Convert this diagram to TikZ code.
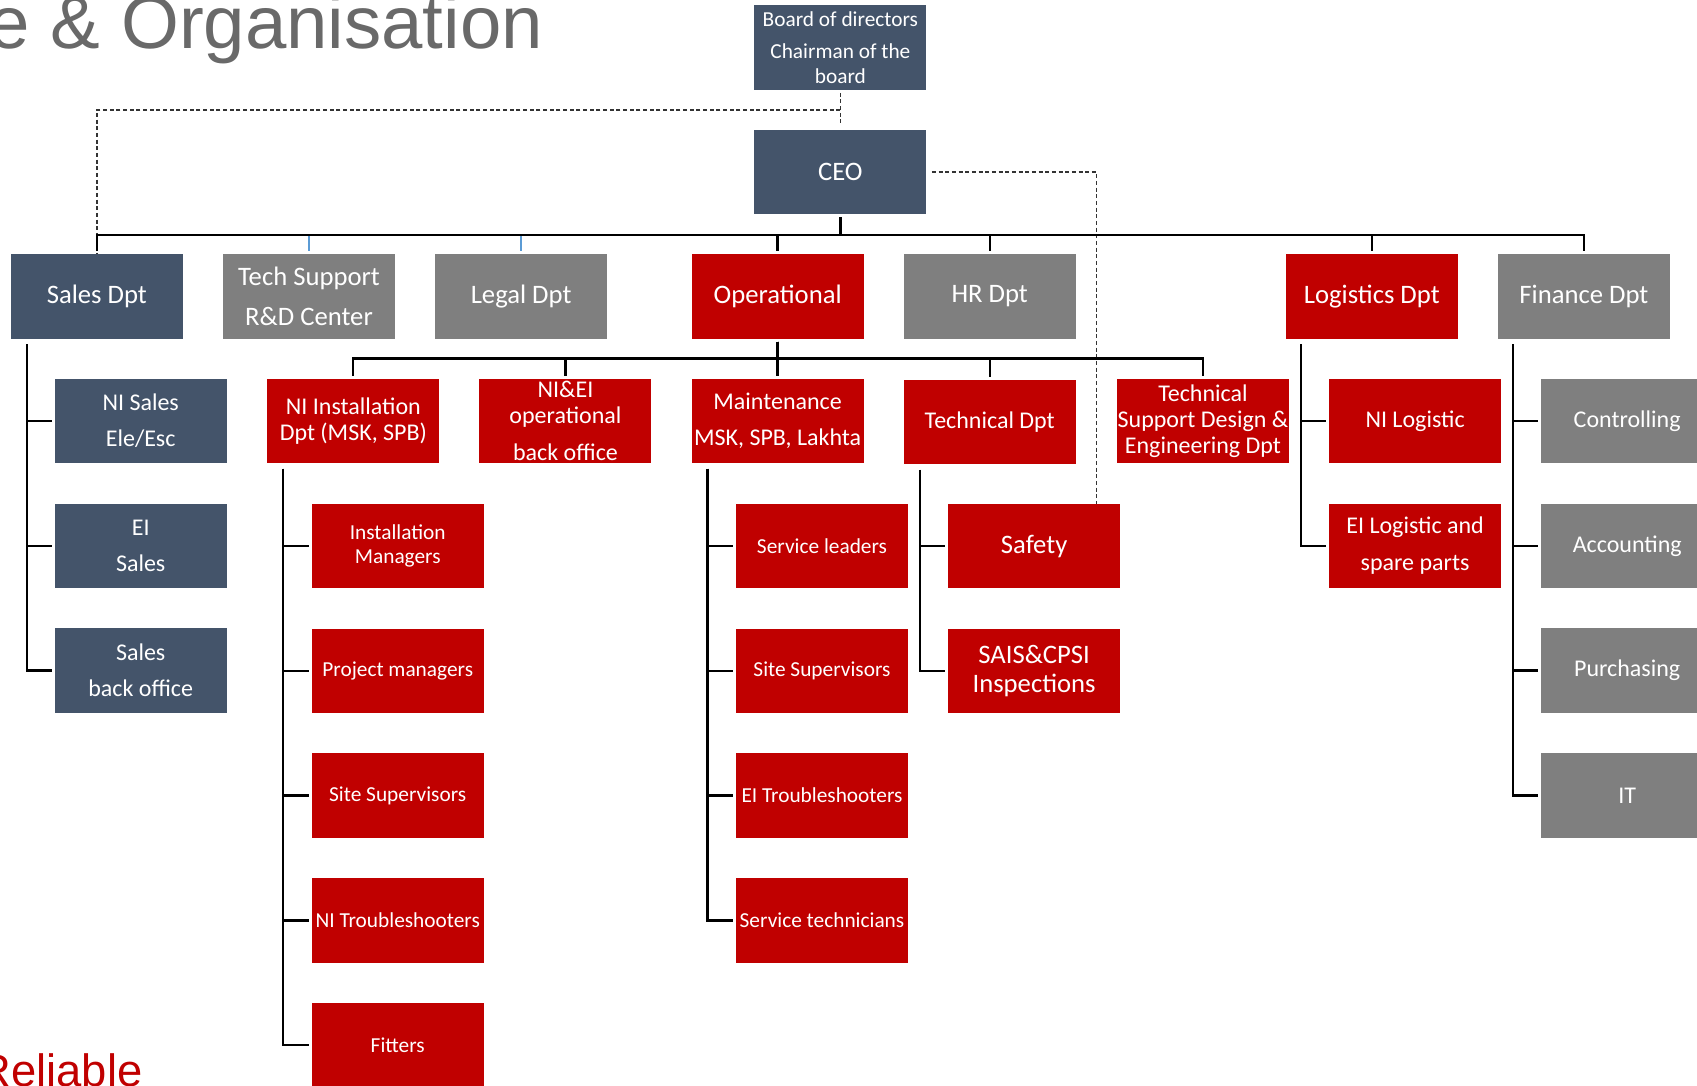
\documentclass[tikz,border=0pt]{standalone}
\usepackage{fontspec}
\setmainfont{Carlito}
\newfontfamily\titlefont{Liberation Sans}
\usepackage{tikz}
\usetikzlibrary{calc, positioning}

\definecolor{navy}{RGB}{68,84,106}
\definecolor{boxgrey}{RGB}{127,127,127}
\definecolor{boxred}{RGB}{192,0,0}
\definecolor{linkblue}{RGB}{91,155,213}
\definecolor{titlegrey}{RGB}{105,105,105}

\tikzset{
  orgbox/.style={rectangle, minimum width=129pt, minimum height=63.3pt, inner sep=0pt, text=white, align=center},
  navybox/.style={orgbox, fill=navy},
  greybox/.style={orgbox, fill=boxgrey},
  redbox/.style={orgbox, fill=boxred},
  txtbig/.style={font=\fontsize{20}{30}\selectfont},
  txtmid/.style={font=\fontsize{18}{26.8}\selectfont},
  txttight/.style={font=\fontsize{18}{19.5}\selectfont},
  txtsmall/.style={font=\fontsize{16}{18}\selectfont},
  conn/.style={draw=black, line width=1.7pt, shorten <=2pt, shorten >=2pt},
  dashln/.style={draw=black!80, line width=1pt, dash pattern=on 3pt off 2pt},
}

\begin{document}
\begin{tikzpicture}[x=0.8117pt, y=-0.8117pt, node distance=29.9pt]
\useasboundingbox (0,0) rectangle (1568,1003);
\node[font=\titlefont\fontsize{55.8}{60}\selectfont, text=titlegrey, anchor=base east, inner sep=0pt] (title) at (502,45) {e \& Organisation};
\node[font=\titlefont\fontsize{34}{40}\selectfont, text=boxred, anchor=base west, inner sep=0pt] (motto) at (-20,1004) {Reliable};

\node[navybox, font=\fontsize{16}{18.7}\selectfont] (board) at (776.5,44) {Board of directors\\[4.8pt]Chairman of the\\board};
\node[navybox, txtbig] (ceo) at (776.5,159) {CEO};

\node[navybox, txtbig] (sales) at (89.5,274) {Sales Dpt};
\node[greybox, txtbig] (tech) at (285.5,274) {Tech Support\\R\&D Center};
\node[greybox, txtbig] (legal) at (481.5,274) {Legal Dpt};
\node[redbox, txtbig] (oper) at (718.5,274) {Operational};
\node[greybox, txtbig] (hr) at (914.5,274) {HR Dpt};
\node[redbox, txtbig] (logi) at (1267.5,274) {Logistics Dpt};
\node[greybox, txtbig] (fin) at (1463.5,274) {Finance Dpt};

\node[navybox, txtmid] (nisales) at (130,389) {NI Sales\\Ele/Esc};
\node[navybox, txtmid, below=of nisales] (eisales) {EI\\Sales};
\node[navybox, txtmid, below=of eisales] (salesbo) {Sales\\back office};

\node[redbox, txttight] (niinst) at (326.5,389) {NI Installation\\Dpt (MSK, SPB)};
\node[redbox, txttight] (backoff) at (522.5,389) {NI\&EI\\operational\\[8.1pt]back office};
\node[redbox, txtmid] (maint) at (718.5,389) {Maintenance\\MSK, SPB, Lakhta};
\node[redbox, txtmid] (techdpt) at (914.5,390) {Technical Dpt};
\node[redbox, txttight] (tsde) at (1111.5,389) {Technical\\Support Design \&\\Engineering Dpt};

\node[redbox, font=\fontsize{16}{17.9}\selectfont] (instman) at (367.5,504.5) {Installation\\Managers};
\node[redbox, txtsmall, below=of instman] (projman) {Project managers};
\node[redbox, txtsmall, below=of projman] (sitesupa) {Site Supervisors};
\node[redbox, txtsmall, below=of sitesupa] (nitrouble) {NI Troubleshooters};
\node[redbox, txtsmall, below=of nitrouble] (fitters) {Fitters};

\node[redbox, txtsmall] (servlead) at (759.5,504.5) {Service leaders};
\node[redbox, txtsmall, below=of servlead] (sitesupb) {Site Supervisors};
\node[redbox, txtsmall, below=of sitesupb] (eitrouble) {EI Troubleshooters};
\node[redbox, txtsmall, below=of eitrouble] (servtech) {Service technicians};

\node[redbox, txtbig] (safety) at (955.5,504.5) {Safety};
\node[redbox, font=\fontsize{20}{22}\selectfont, below=of safety] (sais) {SAIS\&CPSI\\Inspections};

\node[redbox, txtmid] (nilog) at (1307.5,389) {NI Logistic};
\node[redbox, font=\fontsize{18}{27.6}\selectfont, below=of nilog] (eilog) {EI Logistic and\\spare parts};

\node[greybox, txtmid] (contr) at (1503.5,389) {Controlling};
\node[greybox, txtmid, below=of contr] (account) {Accounting};
\node[greybox, txtmid, below=of account] (purch) {Purchasing};
\node[greybox, txtmid, below=of purch] (it) {IT};

\coordinate (split) at ($(board.south)!0.5!(ceo.north)$);
\draw[dashln, shorten <=2pt, shorten >=3pt] (board.south) -- (ceo.north);
\draw[dashln] (split) -| (sales.north);
\draw[dashln, shorten <=4pt] (ceo.east) -| ([xshift=-17.9pt]safety.north east);

\draw[conn, draw=linkblue, line width=1.2pt] (ceo.south) -- ++(0,19) -| (tech.north);
\draw[conn, draw=linkblue, line width=1.2pt] (ceo.south) -- ++(0,19) -| (legal.north);
\draw[conn] (ceo.south) -- ++(0,19) -| (sales.north);
\draw[conn] (ceo.south) -- ++(0,19) -| (oper.north);
\draw[conn] (ceo.south) -- ++(0,19) -| (hr.north);
\draw[conn] (ceo.south) -- ++(0,19) -| (logi.north);
\draw[conn] (ceo.south) -- ++(0,19) -| (fin.north);

\draw[conn] (oper.south) -- ++(0,18) -| (niinst.north);
\draw[conn] (oper.south) -- ++(0,18) -| (backoff.north);
\draw[conn] (oper.south) -- (maint.north);
\draw[conn] (oper.south) -- ++(0,18) -| (techdpt.north);
\draw[conn] (oper.south) -- ++(0,18) -| (tsde.north);

\draw[conn] ([xshift=12.2pt,yshift=-2pt]sales.south west) |- (nisales.west);
\draw[conn] ([xshift=12.2pt,yshift=-2pt]sales.south west) |- (eisales.west);
\draw[conn] ([xshift=12.2pt,yshift=-2pt]sales.south west) |- (salesbo.west);

\draw[conn] ([xshift=12.2pt,yshift=-2pt]niinst.south west) |- (instman.west);
\draw[conn] ([xshift=12.2pt,yshift=-2pt]niinst.south west) |- (projman.west);
\draw[conn] ([xshift=12.2pt,yshift=-2pt]niinst.south west) |- (sitesupa.west);
\draw[conn] ([xshift=12.2pt,yshift=-2pt]niinst.south west) |- (nitrouble.west);
\draw[conn] ([xshift=12.2pt,yshift=-2pt]niinst.south west) |- (fitters.west);

\draw[conn] ([xshift=12.2pt,yshift=-2pt]maint.south west) |- (servlead.west);
\draw[conn] ([xshift=12.2pt,yshift=-2pt]maint.south west) |- (sitesupb.west);
\draw[conn] ([xshift=12.2pt,yshift=-2pt]maint.south west) |- (eitrouble.west);
\draw[conn] ([xshift=12.2pt,yshift=-2pt]maint.south west) |- (servtech.west);

\draw[conn] ([xshift=12.2pt,yshift=-2pt]techdpt.south west) |- (safety.west);
\draw[conn] ([xshift=12.2pt,yshift=-2pt]techdpt.south west) |- (sais.west);

\draw[conn] ([xshift=11.4pt,yshift=-2pt]logi.south west) |- (nilog.west);
\draw[conn] ([xshift=11.4pt,yshift=-2pt]logi.south west) |- (eilog.west);

\draw[conn] ([xshift=11.4pt,yshift=-2pt]fin.south west) |- (contr.west);
\draw[conn] ([xshift=11.4pt,yshift=-2pt]fin.south west) |- (account.west);
\draw[conn] ([xshift=11.4pt,yshift=-2pt]fin.south west) |- (purch.west);
\draw[conn] ([xshift=11.4pt,yshift=-2pt]fin.south west) |- (it.west);
\end{tikzpicture}
\end{document}
